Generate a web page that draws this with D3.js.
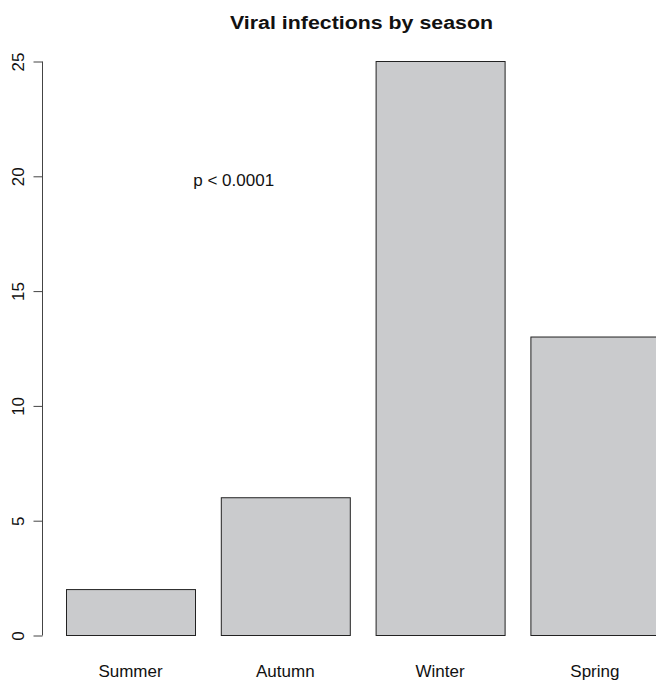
<!DOCTYPE html>
<html><head><meta charset="utf-8">
<script src="https://cdn.jsdelivr.net/npm/d3@7"></script>
<style>body{margin:0;background:#fff}svg{display:block}text{font-family:"Liberation Sans",Arial,sans-serif}</style>
</head><body><svg id="c" width="656" height="681"></svg>
<script>
const categories = ["Summer","Autumn","Winter","Spring"];
const values = [2, 6, 25, 13];
const yTicks = [0,5,10,15,20,25];
const title = "Viral infections by season";
const annotation = "p < 0.0001";

const svg = d3.select("#c");
// R barplot user coordinates: width 1, space 0.2
const x = d3.scaleLinear().domain([0.2, 1.2]).range([66, 195]);
const y = d3.scaleLinear().domain([0, 25]).range([635, 61]);
const barL = i => 0.2 + 1.2 * i;

const g = svg.append("g");
g.selectAll("rect.bar").data(values).join("rect")
  .attr("class","bar")
  .attr("x", (d,i) => x(barL(i)) + 0.5)
  .attr("y", d => y(d) + 0.5)
  .attr("width", x(1.2) - x(0.2))
  .attr("height", d => y(0) - y(d))
  .attr("fill", "#cacbcd")
  .attr("stroke", "#222")
  .attr("stroke-width", 1);

const yAxis = d3.axisLeft(y).tickValues(yTicks).tickSize(9).tickSizeOuter(0).tickPadding(0).tickFormat(d3.format("d"));
const ax = svg.append("g").attr("transform","translate(42.5,0.5)").call(yAxis);
ax.select(".domain").attr("stroke","#444").attr("d", `M0,${y(0)}V${y(25)}`);
ax.selectAll(".tick line").attr("stroke","#444");
ax.selectAll(".tick text").attr("x", 0).attr("y", 0).attr("dy", 0)
  .attr("text-anchor","middle")
  .attr("transform","translate(-19,0) rotate(-90)")
  .attr("font-size", 17).attr("fill","#111").attr("font-family",'"Liberation Sans",Arial,sans-serif');

svg.selectAll("text.cat").data(categories).join("text")
  .attr("class","cat")
  .attr("x", (d,i) => x(barL(i) + 0.5))
  .attr("y", 677)
  .attr("text-anchor","middle")
  .attr("font-size", 17).attr("fill","#111")
  .text(d => d);

svg.append("text").attr("x", 361.5).attr("y", 29).attr("text-anchor","middle")
  .attr("font-size", 18).attr("font-weight","bold").attr("fill","#111")
  .attr("textLength", 263).attr("lengthAdjust","spacingAndGlyphs").text(title);

svg.append("text").attr("x", x(1.5)).attr("y", y(20) + 10).attr("text-anchor","middle")
  .attr("font-size", 17).attr("fill","#111").text(annotation);
</script></body></html>
